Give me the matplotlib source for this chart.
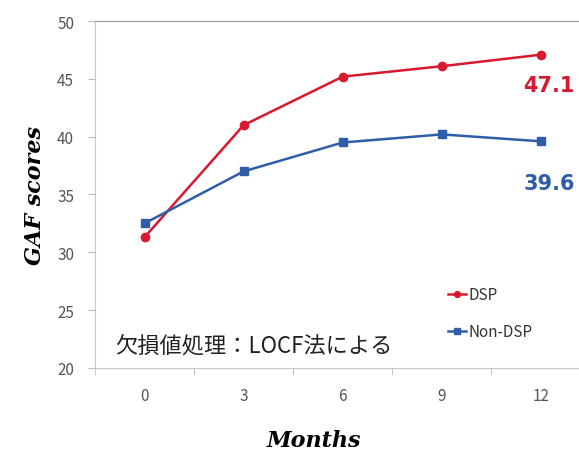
import matplotlib.pyplot as plt

plt.rcParams['font.family'] = ['Noto Sans CJK JP', 'DejaVu Sans']

months = [0, 3, 6, 9, 12]
dsp = [31.3, 41.0, 45.2, 46.1, 47.1]
non_dsp = [32.5, 37.0, 39.5, 40.2, 39.6]
x_ticks = [0, 3, 6, 9, 12]
y_ticks = [20, 25, 30, 35, 40, 45, 50]

red = '#d8192e'
blue = '#2f5ea8'
grey = '#555555'

fig = plt.figure(figsize=(5.79, 4.52), dpi=100)
ax = fig.add_axes([0.164, 0.184, 0.836, 0.767])

ax.plot(months, dsp, color=red, marker='o', markersize=6, linewidth=1.8, label='DSP')
ax.plot(months, non_dsp, color=blue, marker='s', markersize=6, linewidth=1.8, label='Non-DSP')

ax.set_xlim(-1.5, 13.15)
ax.set_ylim(20, 50)
ax.set_yticks(y_ticks)
ax.set_xticks(x_ticks)
ax.set_xticks([-1.5, 1.5, 4.5, 7.5, 10.5], minor=True)
ax.tick_params(axis='x', which='major', length=0, pad=14, labelsize=11, labelcolor=grey)
ax.tick_params(axis='x', which='minor', length=5, color='#bbbbbb')
ax.tick_params(axis='y', length=5, color='#bbbbbb', pad=10, labelsize=11, labelcolor=grey)

for side in ['left', 'bottom']:
    ax.spines[side].set_color('#c8c8c8')
ax.spines['right'].set_visible(False)
ax.spines['top'].set_color('#999999')

# end labels
ax.text(months[-1] + 0.25, dsp[-1] - 2.6, f'{dsp[-1]:.1f}', color=red, fontsize=15,
        fontweight='bold', ha='center', va='center', family='DejaVu Sans')
ax.text(months[-1] + 0.25, non_dsp[-1] - 3.6, f'{non_dsp[-1]:.1f}', color=blue, fontsize=15,
        fontweight='bold', ha='center', va='center', family='DejaVu Sans')

ax.text(-0.9, 22.0, '欠損値処理：LOCF法による', fontsize=16, color='#222222', va='center')

leg = ax.legend(loc='lower left', bbox_to_anchor=(0.7, 0.04), frameon=False,
                handlelength=1.2, handletextpad=0.15, labelspacing=1.3, fontsize=11,
                markerscale=0.7)
for t in leg.get_texts():
    t.set_color('#333333')

ax.set_ylabel('GAF scores', fontsize=16, fontstyle='italic', fontweight='bold',
              family='DejaVu Serif', labelpad=8)
ax.set_xlabel('Months', fontsize=16, fontstyle='italic', fontweight='bold',
              family='DejaVu Serif')
ax.xaxis.set_label_coords(0.452, -0.175)

fig.savefig('out.png', dpi=100)
